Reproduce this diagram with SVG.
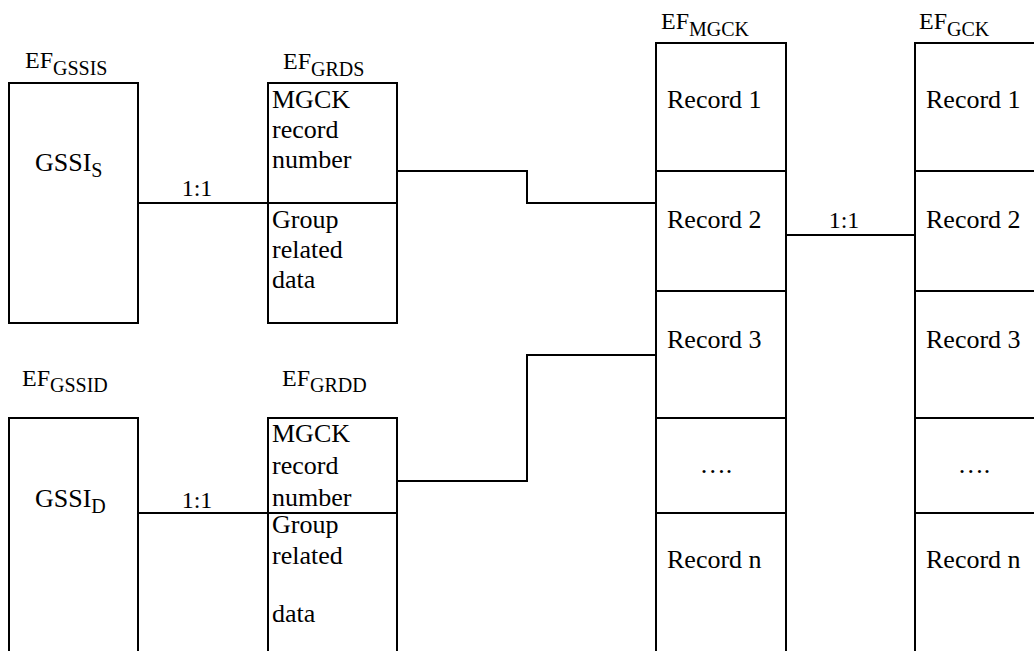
<svg xmlns="http://www.w3.org/2000/svg" width="1034" height="651" viewBox="0 0 1034 651" font-family="'Liberation Serif', 'Times New Roman', 'DejaVu Serif', serif">
<style>
  .box { fill: #ffffff; stroke: #000000; stroke-width: 2; }
  .ln { fill: none; stroke: #000000; stroke-width: 2; }
  text { font-family: 'Liberation Serif', 'Times New Roman', 'DejaVu Serif', serif; fill: #000000; }
  .t { font-size: 26px; }
  .lbl { font-size: 24px; }
  .sub { font-size: 20px; }
</style>
<rect x="0" y="0" width="1034" height="651" fill="#ffffff"/>

<g id="connectors">
  <line class="ln" x1="138" y1="203" x2="268" y2="203"/>
  <text class="lbl" x="197" y="196" text-anchor="middle">1:1</text>
  <polyline class="ln" points="397,171 527,171 527,203 656,203"/>
  <polyline class="ln" points="397,481 527,481 527,355 656,355"/>
  <line class="ln" x1="138" y1="513" x2="268" y2="513"/>
  <text class="lbl" x="197" y="508" text-anchor="middle">1:1</text>
  <line class="ln" x1="786" y1="235" x2="915" y2="235"/>
  <text class="lbl" x="844" y="228" text-anchor="middle">1:1</text>
</g>

<g id="ef-gssis">
  <text class="lbl" x="25" y="68">EF<tspan class="sub" dy="7">GSSIS</tspan></text>
  <rect class="box" x="9" y="83" width="129" height="240"/>
  <text class="t" x="35" y="171">GSSI<tspan class="sub" dy="6">S</tspan></text>
</g>

<g id="ef-grds">
  <text class="lbl" x="283" y="69">EF<tspan class="sub" dy="7">GRDS</tspan></text>
  <rect class="box" x="268" y="83" width="129" height="240"/>
  <line class="ln" x1="268" y1="203" x2="397" y2="203"/>
  <text class="t" x="272" y="108">MGCK</text>
  <text class="t" x="272" y="138">record</text>
  <text class="t" x="272" y="168">number</text>
  <text class="t" x="272" y="228">Group</text>
  <text class="t" x="272" y="258">related</text>
  <text class="t" x="272" y="288">data</text>
</g>

<g id="ef-gssid">
  <text class="lbl" x="22" y="386">EF<tspan class="sub" dy="6">GSSID</tspan></text>
  <rect class="box" x="9" y="418" width="129" height="250"/>
  <text class="t" x="35" y="507">GSSI<tspan class="sub" dy="6">D</tspan></text>
</g>

<g id="ef-grdd">
  <text class="lbl" x="282" y="386">EF<tspan class="sub" dy="6">GRDD</tspan></text>
  <rect class="box" x="268" y="418" width="129" height="250"/>
  <line class="ln" x1="268" y1="513" x2="397" y2="513"/>
  <text class="t" x="272" y="442">MGCK</text>
  <text class="t" x="272" y="474">record</text>
  <text class="t" x="272" y="506">number</text>
  <text class="t" x="272" y="533">Group</text>
  <text class="t" x="272" y="564">related</text>
  <text class="t" x="272" y="622">data</text>
</g>

<g id="ef-mgck">
  <text class="lbl" x="661" y="29">EF<tspan class="sub" dy="7">MGCK</tspan></text>
  <rect class="box" x="656" y="43" width="130" height="625"/>
  <line class="ln" x1="656" y1="171" x2="786" y2="171"/>
  <line class="ln" x1="656" y1="291" x2="786" y2="291"/>
  <line class="ln" x1="656" y1="418" x2="786" y2="418"/>
  <line class="ln" x1="656" y1="513" x2="786" y2="513"/>
  <text class="t" x="667" y="108">Record 1</text>
  <text class="t" x="667" y="228">Record 2</text>
  <text class="t" x="667" y="348">Record 3</text>
  <text class="t" x="716" y="473" text-anchor="middle">….</text>
  <text class="t" x="667" y="568">Record n</text>
</g>

<g id="ef-gck">
  <text class="lbl" x="919" y="29">EF<tspan class="sub" dy="7">GCK</tspan></text>
  <rect class="box" x="915" y="43" width="130" height="625"/>
  <line class="ln" x1="915" y1="171" x2="1045" y2="171"/>
  <line class="ln" x1="915" y1="291" x2="1045" y2="291"/>
  <line class="ln" x1="915" y1="418" x2="1045" y2="418"/>
  <line class="ln" x1="915" y1="513" x2="1045" y2="513"/>
  <text class="t" x="926" y="108">Record 1</text>
  <text class="t" x="926" y="228">Record 2</text>
  <text class="t" x="926" y="348">Record 3</text>
  <text class="t" x="974" y="473" text-anchor="middle">….</text>
  <text class="t" x="926" y="568">Record n</text>
</g>
</svg>
